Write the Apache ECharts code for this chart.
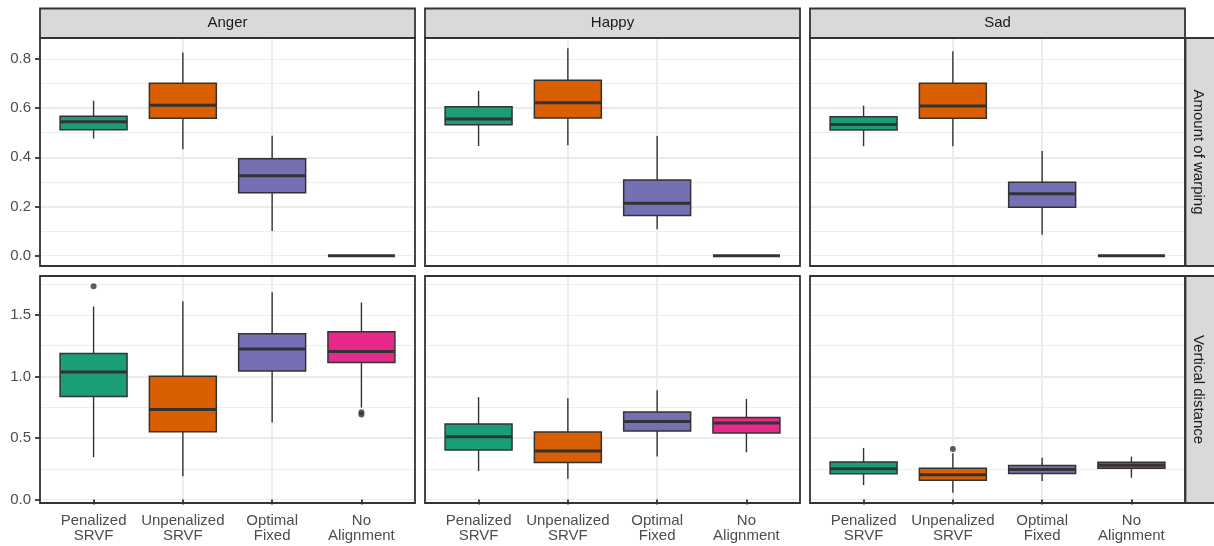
<!DOCTYPE html>
<html><head><meta charset="utf-8">
<script src="https://cdn.jsdelivr.net/npm/echarts@6/dist/echarts.min.js"></script>
<style>html,body{margin:0;padding:0;background:#fff}#c{width:1214px;height:546px}</style>
</head><body><div id="c"></div>
<script>
const categories = ['Penalized\nSRVF', 'Unpenalized\nSRVF', 'Optimal\nFixed', 'No\nAlignment'];
const emotions = ['Anger', 'Happy', 'Sad'];
const metrics = ['Amount of warping', 'Vertical distance'];
const colors = ['#1B9E77', '#D95F02', '#7570B3', '#E7298A'];
const warpTicks = [0, 0.2, 0.4, 0.6, 0.8];
const distTicks = [0, 0.5, 1.0, 1.5];
// each box: [min, Q1, median, Q3, max]
const warpAnger = [[0.476,0.512,0.545,0.567,0.630],[0.433,0.559,0.612,0.701,0.826],[0.100,0.256,0.325,0.394,0.488],[0,0,0,0,0]];
const warpHappy = [[0.446,0.532,0.556,0.606,0.670],[0.449,0.560,0.622,0.713,0.843],[0.107,0.163,0.213,0.308,0.487],[0,0,0,0,0]];
const warpSad   = [[0.445,0.511,0.533,0.565,0.610],[0.445,0.559,0.609,0.701,0.831],[0.085,0.197,0.252,0.298,0.426],[0,0,0,0,0]];
const distAnger = [[0.344,0.836,1.035,1.185,1.567],[0.190,0.551,0.731,1.002,1.610],[0.626,1.043,1.223,1.347,1.682],[0.747,1.113,1.202,1.363,1.599]];
const distHappy = [[0.231,0.403,0.510,0.613,0.831],[0.169,0.301,0.395,0.548,0.823],[0.349,0.556,0.634,0.710,0.887],[0.384,0.540,0.621,0.666,0.817]];
const distSad   = [[0.118,0.210,0.250,0.306,0.419],[0.056,0.156,0.202,0.255,0.376],[0.150,0.212,0.244,0.277,0.339],[0.177,0.255,0.279,0.303,0.349]];
// outliers: [category number (1..4), value]
const outWarpAnger = [], outWarpHappy = [], outWarpSad = [];
const outDistAnger = [[1,1.731],[4,0.708],[4,0.690]];
const outDistHappy = [];
const outDistSad = [[2,0.411]];

const rows = [
  {boxes: [warpAnger, warpHappy, warpSad], outs: [outWarpAnger, outWarpHappy, outWarpSad], ticks: warpTicks, major: 0.2, minor: 0.1},
  {boxes: [distAnger, distHappy, distSad], outs: [outDistAnger, outDistHappy, outDistSad], ticks: distTicks, major: 0.5, minor: 0.25}
];

const FONT = 'Liberation Sans, Arial, sans-serif';
const colLeft = [40, 425, 810], colW = 375;
const rowTop = [38, 276], rowH = [228, 227];
const BORDER = '#333333', LW = 1.8;

// ggplot-style continuous expansion (5%) of each row's data range
function rowLimits(row) {
  let lo = Infinity, hi = -Infinity;
  row.boxes.forEach(p => p.forEach(b => b.forEach(v => { lo = Math.min(lo, v); hi = Math.max(hi, v); })));
  row.outs.forEach(p => p.forEach(o => { lo = Math.min(lo, o[1]); hi = Math.max(hi, o[1]); }));
  const pad = (hi - lo) * 0.05;
  return [lo - pad, hi + pad];
}

const grid = [], xAxis = [], yAxis = [], series = [], graphic = [];
rows.forEach((row, r) => {
  const lim = rowLimits(row);
  emotions.forEach((emo, c) => {
    const g = grid.length;
    grid.push({left: colLeft[c], top: rowTop[r], width: colW, height: rowH[r], show: true,
      backgroundColor: 'transparent', borderColor: BORDER, borderWidth: LW, z: 1});
    xAxis.push({type: 'value', gridIndex: g, min: 0.4, max: 4.6, minInterval: 1, maxInterval: 1,
      axisLine: {show: false},
      axisTick: {show: r === 1, customValues: [1,2,3,4], length: 5, lineStyle: {color: BORDER, width: LW}},
      axisLabel: {show: r === 1, customValues: [1,2,3,4], formatter: v => categories[Math.round(v) - 1] || '',
        fontSize: 15, lineHeight: 15, color: '#4d4d4d', fontFamily: FONT, margin: 10},
      splitLine: {show: true, showMinLine: false, showMaxLine: false, lineStyle: {color: '#ebebeb', width: LW}}
    });
    const yi = yAxis.length;
    yAxis.push({type: 'value', gridIndex: g, min: lim[0], max: lim[1], minInterval: row.major, maxInterval: row.major,
      axisLine: {show: false},
      axisTick: {show: c === 0, customValues: row.ticks, length: 5, lineStyle: {color: BORDER, width: LW}},
      axisLabel: {show: c === 0, customValues: row.ticks, formatter: v => v.toFixed(1),
        fontSize: 15, color: '#4d4d4d', fontFamily: FONT, margin: 9},
      splitLine: {show: true, showMinLine: false, showMaxLine: false, lineStyle: {color: '#ebebeb', width: LW}}
    });
    yAxis.push({type: 'value', gridIndex: g, min: lim[0], max: lim[1], minInterval: row.minor, maxInterval: row.minor,
      position: 'right', axisLine: {show: false}, axisTick: {show: false}, axisLabel: {show: false},
      splitLine: {show: true, showMinLine: false, showMaxLine: false, lineStyle: {color: '#ebebeb', width: 0.9}}
    });
    series.push({
      type: 'custom', xAxisIndex: g, yAxisIndex: yi, z: 2,
      data: row.boxes[c].map((b, i) => [i + 1].concat(b)),
      dimensions: ['x', 'min', 'q1', 'median', 'q3', 'max'],
      encode: {x: 0, y: [1, 2, 3, 4, 5]},
      renderItem: function (params, api) {
        const x = api.value(0);
        const pMin = api.coord([x, api.value(1)]);
        const pQ1 = api.coord([x, api.value(2)]);
        const pMed = api.coord([x, api.value(3)]);
        const pQ3 = api.coord([x, api.value(4)]);
        const pMax = api.coord([x, api.value(5)]);
        const w = api.size([0.75, 0])[0];
        const cx = pMed[0];
        const col = colors[params.dataIndex];
        return {type: 'group', children: [
          {type: 'line', shape: {x1: cx, y1: pMax[1], x2: cx, y2: pQ3[1]}, style: {stroke: '#333', lineWidth: 1.4}},
          {type: 'line', shape: {x1: cx, y1: pQ1[1], x2: cx, y2: pMin[1]}, style: {stroke: '#333', lineWidth: 1.4}},
          {type: 'rect', shape: {x: cx - w / 2, y: pQ3[1], width: w, height: pQ1[1] - pQ3[1]},
            style: {fill: col, stroke: '#333', lineWidth: 1.5}},
          {type: 'line', shape: {x1: cx - w / 2, y1: pMed[1], x2: cx + w / 2, y2: pMed[1]}, style: {stroke: '#333', lineWidth: 3}}
        ]};
      }
    });
    if (row.outs[c].length) {
      series.push({type: 'scatter', xAxisIndex: g, yAxisIndex: yi, z: 3, symbolSize: 6,
        itemStyle: {color: '#333'}, data: row.outs[c]});
    }
  });
  // right strip
  graphic.push({type: 'rect', shape: {x: 1185.5, y: rowTop[r], width: 30, height: rowH[r]},
    style: {fill: '#d9d9d9', stroke: BORDER, lineWidth: LW}});
  graphic.push({type: 'text', x: 1198, y: rowTop[r] + rowH[r] / 2, rotation: -Math.PI / 2,
    style: {text: metrics[r], fontSize: 15, fontFamily: FONT, fill: '#1a1a1a', align: 'center', verticalAlign: 'middle'}});
});
emotions.forEach((emo, c) => {
  graphic.push({type: 'rect', shape: {x: colLeft[c], y: 8.5, width: colW, height: 29.5},
    style: {fill: '#d9d9d9', stroke: BORDER, lineWidth: LW}});
  graphic.push({type: 'text', x: colLeft[c] + colW / 2, y: 23,
    style: {text: emo, fontSize: 15, fontFamily: FONT, fill: '#1a1a1a', align: 'center', verticalAlign: 'middle'}});
});

const chart = echarts.init(document.getElementById('c'), null, {renderer: 'canvas'});
chart.setOption({animation: false, backgroundColor: '#fff', grid, xAxis, yAxis, series, graphic});
</script></body></html>
